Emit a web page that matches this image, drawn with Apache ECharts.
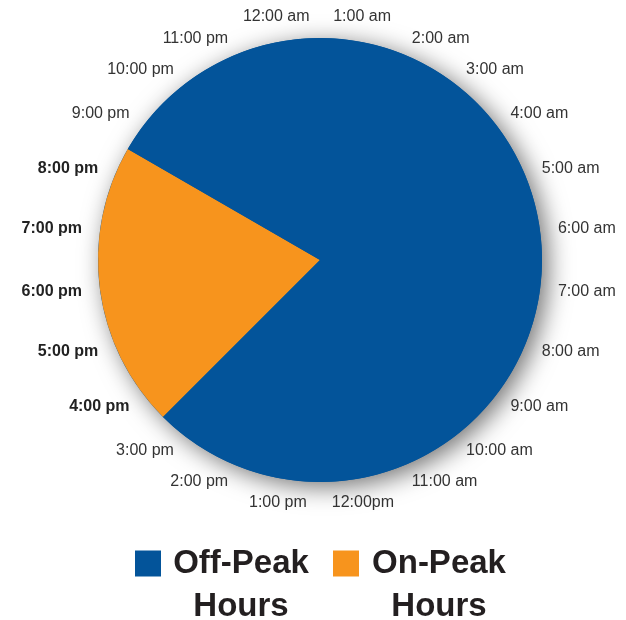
<!DOCTYPE html>
<html><head><meta charset="utf-8">
<script src="https://cdn.jsdelivr.net/npm/echarts@6/dist/echarts.min.js"></script>
<style>html,body{margin:0;padding:0;background:#fff}#c{width:626px;height:620px}</style>
</head><body><div id="c"></div>
<script>
// Clock labels, clockwise from the top of the dial
const hourLabels = ['1:00 am','2:00 am','3:00 am','4:00 am','5:00 am','6:00 am','7:00 am','8:00 am','9:00 am','10:00 am','11:00 am','12:00pm','1:00 pm','2:00 pm','3:00 pm','4:00 pm','5:00 pm','6:00 pm','7:00 pm','8:00 pm','9:00 pm','10:00 pm','11:00 pm','12:00 am'];
const onPeakHours = ['4:00 pm','5:00 pm','6:00 pm','7:00 pm','8:00 pm'];
const periodNames = ['Off-Peak Hours','On-Peak Hours'];
const periodHours = [hourLabels.length - onPeakHours.length, onPeakHours.length]; // 19, 5
const periodColors = ['#03549A','#F7941D'];

const CENTER = [320, 260];
const RADIUS = 222;
const FONT = 'Liberation Sans, Arial, Helvetica, sans-serif';

const firstPeakIdx = hourLabels.indexOf(onPeakHours[0]);
const dataStart = 90 - 360 * firstPeakIdx / hourLabels.length;

const chart = echarts.init(document.getElementById('c'));
chart.setOption({
  animation: false,
  backgroundColor: '#fff',
  legend: {
    data: periodNames,
    left: 135, top: 504, padding: 0,
    itemWidth: 26, itemHeight: 26, itemGap: 17,
    icon: 'rect', selectedMode: false,
    formatter: n => '{s| }\n' + n.split(' ').map(s => '{a|' + s + '}').join('\n'),
    textStyle: {
      fontFamily: FONT, fontSize: 33, fontWeight: 'bold', color: '#231F20',
      rich: {
        s: { fontSize: 33, lineHeight: 43 },
        a: { width: 150, align: 'center', fontFamily: FONT, fontSize: 33, fontWeight: 'bold', lineHeight: 43, color: '#231F20' }
      }
    }
  },
  series: [
    {
      name: 'dial', type: 'pie', silent: true, center: CENTER, radius: RADIUS, z: 1,
      label: { show: false }, labelLine: { show: false },
      itemStyle: { color: periodColors[0], shadowBlur: 24, shadowOffsetX: 6, shadowOffsetY: 5, shadowColor: 'rgba(0,0,0,0.55)' },
      data: [{ name: 'dial', value: hourLabels.length }]
    },
    {
      name: 'periods', type: 'pie', silent: true, center: CENTER, radius: RADIUS, z: 2,
      startAngle: dataStart, clockwise: true,
      label: { show: false }, labelLine: { show: false },
      emphasis: { scale: false },
      data: [
        { name: periodNames[1], value: periodHours[1], itemStyle: { color: periodColors[1] } },
        { name: periodNames[0], value: periodHours[0], itemStyle: { color: periodColors[0] } }
      ]
    },
    {
      name: 'hours', type: 'pie', silent: true, center: CENTER, radius: RADIUS, z: 3,
      startAngle: 90, clockwise: true, avoidLabelOverlap: false,
      itemStyle: { color: 'rgba(0,0,0,0)' },
      label: { show: true, position: 'outside', formatter: '{b}', fontFamily: FONT, fontSize: 16, color: '#333',
               bleedMargin: 0, distanceToLabelLine: 0 },
      labelLine: { show: true, length: 18, length2: 0, lineStyle: { width: 0, opacity: 0 } },
      labelLayout: function (p) {
        const pts = p.labelLinePoints;
        if (!pts) return {};
        const vx = pts[1][0] - pts[0][0], vy = pts[1][1] - pts[0][1];
        const len = Math.hypot(vx, vy) || 1;
        const ux = vx / len, uy = vy / len;
        const f = Math.min(1, Math.abs(ux) / 0.35);
        const w = p.labelRect.width, h = p.labelRect.height;
        return {
          x: pts[1][0] + Math.sign(ux) * f * w / 2,
          y: pts[1][1] + Math.sign(uy) * (1 - f) * h / 2,
          align: 'center', verticalAlign: 'middle'
        };
      },
      data: hourLabels.map(h => ({
        name: h, value: 1,
        label: onPeakHours.includes(h) ? { fontWeight: 'bold', color: '#222' } : {}
      }))
    }
  ]
});
</script></body></html>
